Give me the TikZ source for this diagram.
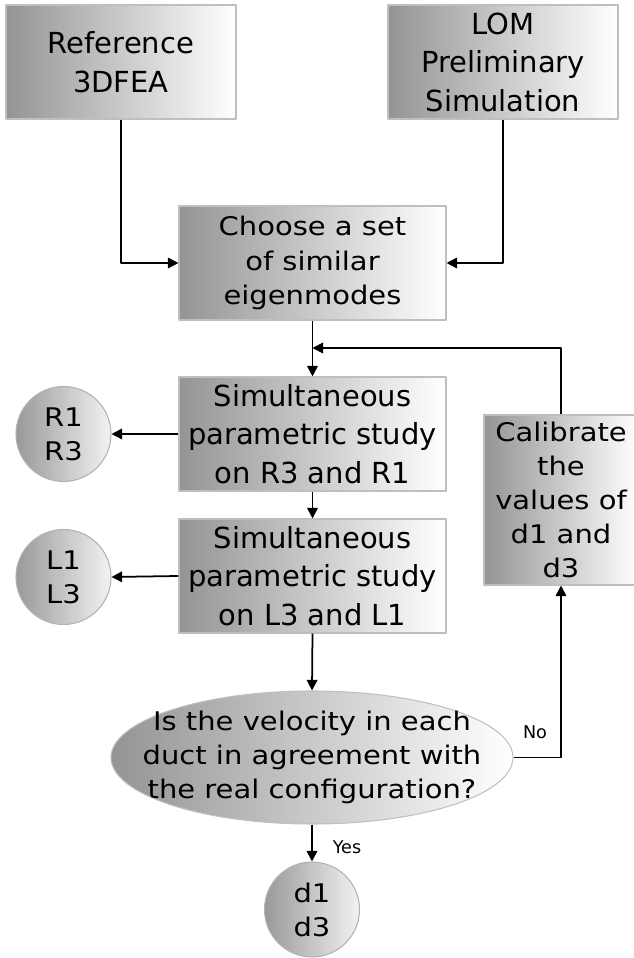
\documentclass[tikz,border=0pt]{standalone}
\usepackage{fontspec}
\setmainfont{DejaVu Sans}
\newfontfamily\widefont[FakeStretch=1.13]{DejaVu Sans}
\usepackage{tikz}
\usetikzlibrary{shapes,arrows.meta,calc}

\newcommand{\boxfont}{\fontsize{16.5}{21.9}\selectfont}
\newcommand{\narrowfont}{\widefont\fontsize{14.6}{19.4}\selectfont}
\newcommand{\tagfont}{\fontsize{10}{12}\selectfont}

\begin{document}
\begin{tikzpicture}[line join=round,
  >={Triangle[length=6pt, width=6pt]},
  flow/.style={line width=1pt, ->},
  box/.style={rectangle, draw=black!25, line width=0.6pt, left color=black!42, right color=white, align=center, inner sep=0},
  ball/.style={circle, draw=black!30, line width=0.6pt, left color=black!40, right color=black!5, align=center, inner sep=0, minimum size=1.9cm, font=\narrowfont}]

\useasboundingbox (0,0) rectangle (12.66,19.16);

\node (ref) at (2.42, 17.92) [box, minimum width=4.6cm, minimum height=2.28cm, font=\boxfont] {Reference\\3DFEA};
\node (lom) at (10.06, 17.92) [box, minimum width=4.6cm, minimum height=2.28cm, font=\boxfont] {LOM\\Preliminary\\Simulation};

\node (choose) at (6.25, 13.9) [box, minimum width=5.34cm, minimum height=2.28cm, font=\narrowfont] {Choose a set\\of similar\\eigenmodes};

\node (simr) at (6.25, 10.48) [box, minimum width=5.34cm, minimum height=2.28cm, font=\boxfont] {Simultaneous\\parametric study\\on R3 and R1};
\node (siml) at (6.25, 7.64) [box, minimum width=5.34cm, minimum height=2.28cm, font=\boxfont] {Simultaneous\\parametric study\\on L3 and L1};

\node (rvals) at (1.27, 10.48) [ball] {R1\\R3};
\node (lvals) at (1.27, 7.62) [ball] {L1\\L3};

\node (calib) at (11.22, 9.16) [box, minimum width=3.08cm, minimum height=3.4cm, font=\narrowfont] {Calibrate\\the\\values of\\d1 and\\d3};

\node (check) at (6.24, 4.01) [ellipse, draw=black!25, line width=0.6pt, left color=black!42, right color=white, inner sep=0, minimum width=8.04cm, minimum height=2.66cm,
  label={[font=\narrowfont, align=center]center:{Is the velocity in each\\duct in agreement with\\the real configuration?}}] {};

\node (dvals) at (6.24, 0.97) [ball] {d1\\d3};

\coordinate (loop) at (6.25, 12.2);

\draw[flow] (ref.south) |- (choose.west);
\draw[flow] (lom.south) |- (choose.east);
\draw[flow] (choose.south) -- (simr.north);
\draw[flow] (simr.west) -- (rvals.east);
\draw[flow] (simr.south) -- (siml.north);
\draw[flow] (siml.west) -- (lvals.east);
\draw[flow] (siml.south) -- (check.north);
\draw[flow] (check.east) -| (calib.south);
\draw[flow] (calib.north) |- (loop);
\draw[flow] (check.south) -- (dvals.north);

\node (no) at (10.7, 4.52) [font=\tagfont] {No};
\node (yes) at (6.94, 2.22) [font=\tagfont] {Yes};

\end{tikzpicture}
\end{document}
